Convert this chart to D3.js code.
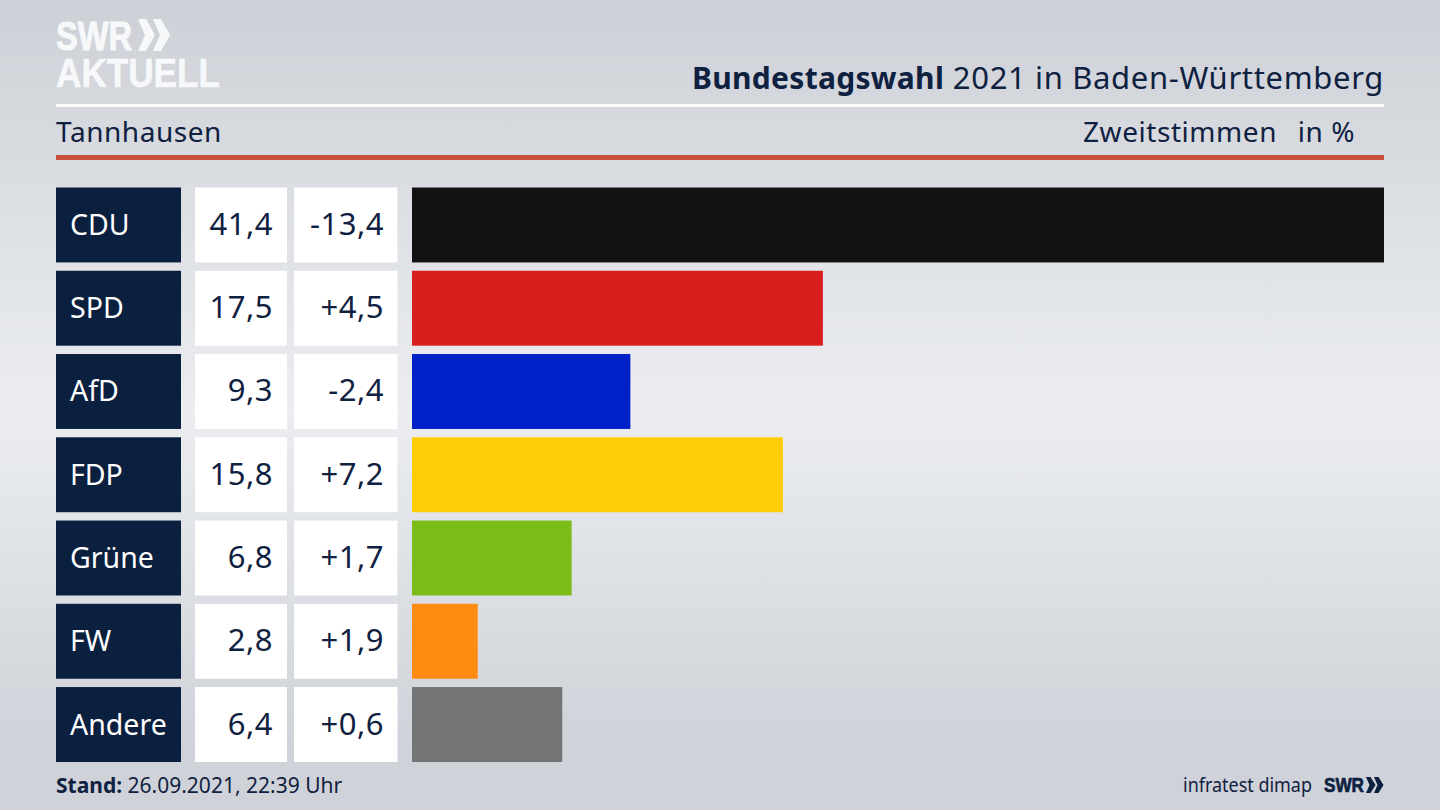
<!DOCTYPE html>
<html>
<head>
<meta charset="utf-8">
<script src="https://cdn.jsdelivr.net/npm/d3@7"></script>
<style>
  html, body { margin: 0; padding: 0; background: #d5d8de; overflow: hidden; }
  text { font-family: "Noto Sans", sans-serif; fill: #0f2140; }
</style>
</head>
<body>
<svg id="chart" width="1440" height="810"></svg>
<script>
// values
const parties = ["CDU", "SPD", "AfD", "FDP", "Grüne", "FW", "Andere"];
const shares = [41.4, 17.5, 9.3, 15.8, 6.8, 2.8, 6.4];
const changes = [-13.4, 4.5, -2.4, 7.2, 1.7, 1.9, 0.6];
const barColors = ["#121212", "#d81f1e", "#0021c8", "#ffcd08", "#7abd19", "#ff8c12", "#737476"];

const navy = "#0b1f3f";
const logoWhite = "#f7f8fa";
const left = 56, right = 1384;

const svg = d3.select("#chart");
const defs = svg.append("defs");

// background, light band through the middle
const bg = defs.append("linearGradient")
  .attr("id", "bg")
  .attr("x1", 0).attr("y1", 0)
  .attr("x2", 0).attr("y2", 1);
bg.append("stop").attr("offset", "0").attr("stop-color", "#cdd0d6");
bg.append("stop").attr("offset", "0.51").attr("stop-color", "#ebedf1");
bg.append("stop").attr("offset", "0.92").attr("stop-color", "#cfd2d8");
bg.append("stop").attr("offset", "1").attr("stop-color", "#cfd2d9");

svg.append("rect").attr("width", 1440).attr("height", 810).attr("fill", "url(#bg)");

// scales
const y = d3.scaleBand()
  .domain(parties)
  .range([187.5, 762])
  .paddingInner(0.1);

const x = d3.scaleLinear()
  .domain([0, d3.max(shares)])
  .range([412, right]);

const comma = v => Math.abs(v).toFixed(1).replace(".", ",");
const signed = v => (v > 0 ? "+" : "-") + comma(v);

// logo
const logo = svg.append("g").attr("fill", logoWhite);
logo.append("text")
  .attr("x", 56).attr("y", 50)
  .style("font-family", "'Liberation Sans', sans-serif")
  .style("font-weight", 700)
  .style("font-size", "41px")
  .style("fill", logoWhite)
  .style("stroke", logoWhite)
  .style("stroke-width", "1px")
  .attr("textLength", 76)
  .attr("lengthAdjust", "spacingAndGlyphs")
  .text("SWR");
logo.append("path").attr("d", "M138,19h8l9,16l-9,16h-8l7,-16z");
logo.append("path").attr("d", "M153,19h8l9,16l-9,16h-8l7,-16z");
logo.append("text")
  .attr("x", 56).attr("y", 87)
  .style("font-family", "'Liberation Sans', sans-serif")
  .style("font-weight", 700)
  .style("font-size", "41px")
  .style("fill", logoWhite)
  .style("stroke", logoWhite)
  .style("stroke-width", "0.6px")
  .attr("textLength", 164)
  .attr("lengthAdjust", "spacingAndGlyphs")
  .text("AKTUELL");

// header
const title = svg.append("text")
  .attr("x", right).attr("y", 89)
  .attr("text-anchor", "end")
  .style("font-size", "30px");
title.append("tspan").style("font-weight", 700).style("letter-spacing", "0.3px").text("Bundestagswahl");
title.append("tspan").style("font-size", "31px").style("letter-spacing", "0.65px").text(" 2021 in Baden-Württemberg");

svg.append("rect").attr("x", left).attr("y", 104).attr("width", right - left).attr("height", 3).attr("fill", "#fbfbfc");
svg.append("rect").attr("x", left).attr("y", 155).attr("width", right - left).attr("height", 5).attr("fill", "#c9503c");

const head = svg.append("g").style("font-size", "28px").style("letter-spacing", "0.55px");
head.append("text").attr("x", left).attr("y", 142).text("Tannhausen");
head.append("text").attr("x", 1277).attr("y", 142).attr("text-anchor", "end").text("Zweitstimmen");
head.append("text").attr("x", 1355).attr("y", 142).attr("text-anchor", "end").text("in %");

// rows
const rows = svg.selectAll(".row")
  .data(parties.map((party, i) => ({ party, share: shares[i], change: changes[i], color: barColors[i] })))
  .enter()
  .append("g")
  .attr("class", "row")
  .attr("transform", d => `translate(0,${y(d.party)})`);

rows.append("rect").attr("x", 56).attr("width", 125).attr("height", y.bandwidth()).attr("fill", navy);
rows.append("rect").attr("x", 195).attr("width", 92).attr("height", y.bandwidth()).attr("fill", "#fff");
rows.append("rect").attr("x", 294).attr("width", 103.5).attr("height", y.bandwidth()).attr("fill", "#fff");

rows.append("rect")
  .attr("x", x(0))
  .attr("width", d => x(d.share) - x(0))
  .attr("height", y.bandwidth())
  .attr("fill", d => d.color);

const mid = y.bandwidth() / 2 + 10;

rows.append("text")
  .attr("x", 70).attr("y", mid)
  .style("font-size", "28.5px")
  .style("fill", "#fff")
  .text(d => d.party);

rows.append("text")
  .attr("x", 273).attr("y", mid)
  .attr("text-anchor", "end")
  .style("font-size", "31px")
  .style("letter-spacing", "0.5px")
  .text(d => comma(d.share));

rows.append("text")
  .attr("x", 384).attr("y", mid)
  .attr("text-anchor", "end")
  .style("font-size", "31px")
  .style("letter-spacing", "0.5px")
  .text(d => signed(d.change));

// footer
const stand = svg.append("text").attr("x", left).attr("y", 793).style("font-size", "21px");
stand.append("tspan").style("font-weight", 700).text("Stand:");
stand.append("tspan").text(" 26.09.2021, 22:39 Uhr");

svg.append("text")
  .attr("x", 1183).attr("y", 792)
  .style("font-size", "20px")
  .attr("textLength", 129)
  .attr("lengthAdjust", "spacingAndGlyphs")
  .text("infratest dimap");

svg.append("text")
  .attr("x", 1324).attr("y", 792)
  .style("font-family", "'Liberation Sans', sans-serif")
  .style("font-weight", 700)
  .style("font-size", "20px")
  .style("stroke", navy)
  .style("stroke-width", "0.7px")
  .attr("textLength", 40)
  .attr("lengthAdjust", "spacingAndGlyphs")
  .text("SWR");
svg.append("path").attr("d", "M1366,777h4.5l5,8l-5,8h-4.5l3.5,-8z").attr("fill", navy);
svg.append("path").attr("d", "M1374,777h4.5l5,8l-5,8h-4.5l3.5,-8z").attr("fill", navy);
</script>
</body>
</html>
